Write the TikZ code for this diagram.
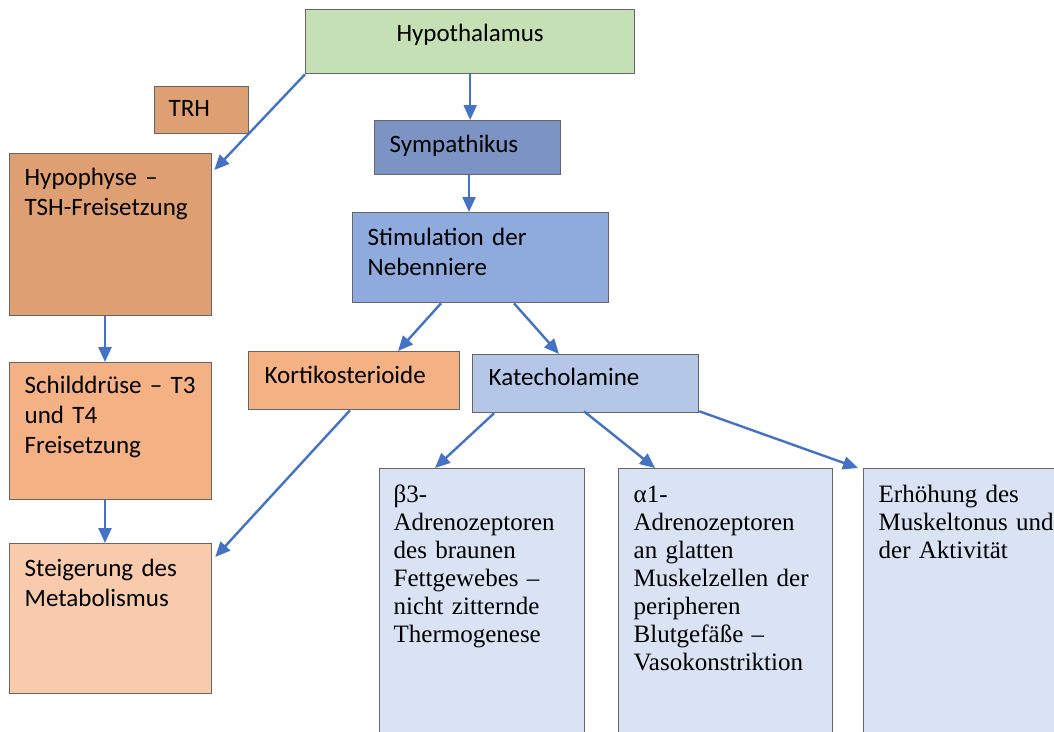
\documentclass[tikz,border=0pt]{standalone}
\usepackage{fontspec}
\setmainfont{Carlito}
\newfontfamily\timesfont{Liberation Serif}
\usetikzlibrary{arrows.meta}

\definecolor{hypgreen}{HTML}{C5E0B4}
\definecolor{darkorange}{HTML}{DEA073}
\definecolor{midorange}{HTML}{F4B183}
\definecolor{lightorange}{HTML}{F8CBAD}
\definecolor{darkblue}{HTML}{7C94C4}
\definecolor{midblue}{HTML}{8FAADC}
\definecolor{lightblue}{HTML}{B4C7E7}
\definecolor{paleblue}{HTML}{DAE3F3}
\definecolor{arrowblue}{HTML}{4472C4}
\definecolor{framegray}{HTML}{666666}

\tikzstyle{every node}=[font=\fontsize{25}{30}\selectfont]

\begin{document}
\begin{tikzpicture}[
            x=1pt, y=-1pt,
            box/.style={draw=framegray, line width=1.3pt, anchor=north west, inner xsep=15pt, inner ysep=0pt, align=left},
            serifbox/.style={box, fill=paleblue, text height=34pt, text depth=236pt, font=\timesfont\fontsize{25}{28}\selectfont},
            arr/.style={draw=arrowblue, line width=2.4pt, -{Triangle[length=15pt,width=13pt]}}]
        \clip (0,0) rectangle (1054,731);
        % left column
        \node[box, fill=hypgreen, align=center, text width=299pt, text height=32pt, text depth=32pt] (hyp) at (305,9) {Hypothalamus};
        \node[box, fill=darkorange, inner xsep=14pt, text width=66pt, text height=30pt, text depth=17pt] (trh) at (154,86) {TRH};
        \node[box, fill=darkorange, text width=172pt, text height=32pt, text depth=130pt] (hypo) at (9,153) {Hypophyse –\\TSH-Freisetzung};
        \node[box, fill=midorange, text width=172pt, text height=31pt, text depth=106pt] (schild) at (9,362) {Schilddrüse – T3\\und T4\\Freisetzung};
        \node[box, fill=lightorange, text width=172pt, text height=33pt, text depth=117pt] (steig) at (9,543) {Steigerung des\\Metabolismus};
        % right part
        \node[box, fill=darkblue, text width=156pt, text height=32pt, text depth=22pt] (sym) at (374,120) {Sympathikus};
        \node[box, fill=midblue, text width=226pt, text height=33pt, text depth=57pt] (stim) at (352,212) {Stimulation der\\Nebenniere};
        \node[box, fill=midorange, inner xsep=16pt, text width=179pt, text height=32pt, text depth=26pt] (korti) at (248,351) {Kortikosterioide};
        \node[box, fill=lightblue, inner xsep=16pt, text width=194pt, text height=31pt, text depth=27pt] (kat) at (472,354) {Katecholamine};
        \node[serifbox, inner xsep=14pt, text width=177pt] (beta) at (379,468) {β3-\\Adrenozeptoren\\des braunen\\Fettgewebes –\\nicht zitternde\\Thermogenese};
        \node[serifbox, text width=184pt] (alpha) at (618,468) {α1-\\Adrenozeptoren\\an glatten\\Muskelzellen der\\peripheren\\Blutgefäße –\\Vasokonstriktion};
        \node[serifbox, text width=190pt] (erh) at (863,468) {Erhöhung des\\Muskeltonus und\\der Aktivität};
        % arrows
        \draw[arr] (hyp.south west) -- ([xshift=2pt,yshift=-17pt]hypo.north east);
        \draw[arr] (hyp.south) -- (hyp.south |- sym.north);
        \draw[arr] ([xshift=95pt]sym.south west) -- ([xshift=95pt]sym.south west |- stim.north);
        \draw[arr] ([xshift=96pt]hypo.south west) -- ([xshift=96pt]schild.north west);
        \draw[arr] ([xshift=96pt]schild.south west) -- ([xshift=96pt]steig.north west);
        \draw[arr] ([xshift=89pt]stim.south west) -- ([xshift=150pt]korti.north west);
        \draw[arr] ([xshift=162pt]stim.south west) -- ([xshift=87pt]kat.north west);
        \draw[arr] ([xshift=102pt]korti.south west) -- ([xshift=3pt,yshift=-14pt]steig.north east);
        \draw[arr] ([xshift=22pt]kat.south west) -- ([xshift=56pt]beta.north west);
        \draw[arr] ([xshift=112pt,yshift=2pt]kat.south west) -- ([xshift=37pt]alpha.north west);
        \draw[arr] ([yshift=2pt]kat.south east) -- ([xshift=-5pt]erh.north west);
    \end{tikzpicture}
\end{document}
